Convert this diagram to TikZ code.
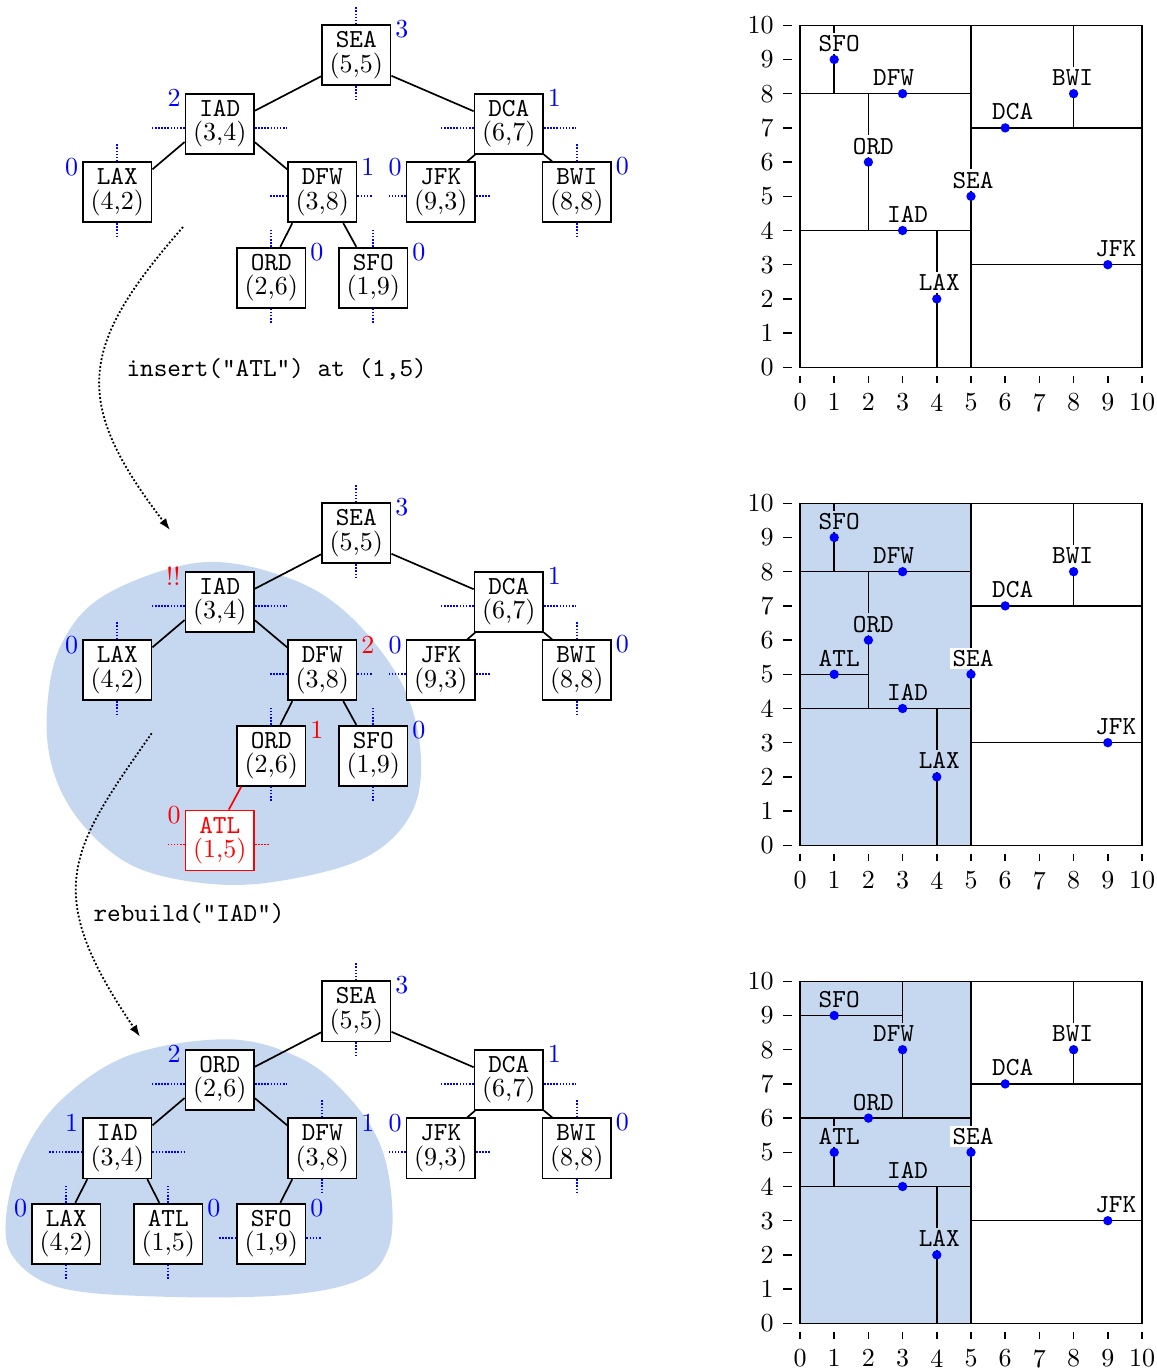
\documentclass[tikz,border=0pt]{standalone}
\usetikzlibrary{calc,arrows.meta}
\definecolor{kdblue}{RGB}{0,0,255}
\definecolor{kdred}{RGB}{255,0,0}
\definecolor{blobfill}{RGB}{197,216,240}
\newcommand\kdbox[6][]{\node[kd,#1] (#2) at (#3,#4) {\texttt{#5}\\[-2.6pt](#6)};}
\newcommand\kdvs[2][kdblue]{\draw[sp,#1] (#2.north) -- ++(0,-17); \draw[sp,#1] (#2.south) -- ++(0,15);}
\newcommand\kdhw[2][kdblue]{\draw[sp,#1] ($(#2.west)+(0,4)$) -- ++(-33.6,0); \draw[sp,#1] ($(#2.east)+(0,4)$) -- ++(32.4,0);}
\newcommand\kdhn[2][kdblue]{\draw[sp,#1] ($(#2.west)+(0,4)$) -- ++(-17,0); \draw[sp,#1] ($(#2.east)+(0,4)$) -- ++(15,0);}
\newcommand\kdne[3][kdblue]{\node[dl,text=#1,anchor=west] (#2ne) at ($(#2.north east)+(3.5,5)$) {#3};}
\newcommand\kdnw[3][kdblue]{\node[dl,text=#1,anchor=east] (#2nw) at ($(#2.north west)+(-3.5,5.5)$) {#3};}
\newcommand\edAL[2]{\draw[ed] ($(#1.west)+(0,21)$) -- ($(#2.east)+(0,-13)$);}
\newcommand\edAR[2]{\draw[ed] ($(#1.east)+(0,20.5)$) -- ($(#2.west)+(0,-12.5)$);}
\newcommand\edBL[2]{\draw[ed] ($(#1.west)+(0,18.3)$) -- ($(#2.east)+(0,-23)$);}
\newcommand\edBR[2]{\draw[ed] ($(#1.east)+(0,18.6)$) -- ($(#2.west)+(0,-23)$);}
\newcommand\edCL[2]{\draw[ed] ($(#1.south west)+(1.5,0)$) -- ($(#2.north)+(26.4,0)$);}
\newcommand\edCR[2]{\draw[ed] ($(#1.south east)+(0,0)$) -- ($(#2.north)+(-24.6,0)$);}
\newcommand\edDL[3][]{\draw[ed,#1] ($(#2.south)+(-30,0)$) -- ($(#3.north)+(9,0)$);}
\newcommand\edDR[2]{\draw[ed] ($(#1.south)+(30,0)$) -- ($(#2.north)+(-9,0)$);}
\newcommand\kdaxes[1]{%
  \draw[pl] (0,0) rectangle (10,10);
  \foreach \i in {0,...,10}{
    \draw[pl] ([xshift=-3.2pt]0,\i) -- ([xshift=-6.45pt]0,\i);
    \node[tk,anchor=east] (#1y\i) at ([xshift=-9.9pt]0,\i) {\i};
    \draw[pl] ([yshift=-3.2pt]\i,0) -- ([yshift=-6.2pt]\i,0);
    \node[tk,anchor=north] (#1x\i) at ([yshift=-9.9pt]\i,0) {\i};
  }}
\newcommand\kdpl[6][white]{\node[plab,fill=#1] (#2) at ([xshift=#5*0.3846pt,yshift=3.08pt]#3,#4) {#6};}
\newcommand\kddot[2]{\fill[kdblue] (#1,#2) circle[radius=1.8pt];}
\begin{document}
\begin{tikzpicture}[x=0.384615pt,y=-0.384615pt,
  kd/.style={draw, line width=0.65pt, fill=white, minimum width=26.4pt, minimum height=23.1pt, inner sep=0pt, align=center, font=\normalsize},
  sp/.style={dash pattern=on 0.6pt off 0.6pt, line width=0.75pt},
  ed/.style={line width=0.65pt},
  dl/.style={inner sep=0pt, font=\normalsize},
  pl/.style={line width=0.55pt},
  tk/.style={inner sep=0pt, font=\normalsize},
  plab/.style={anchor=base, inner sep=1pt, font=\ttfamily},
  arr/.style={dash pattern=on 0.7pt off 0.8pt, line width=0.7pt, -{Latex[length=4.5pt,width=3.2pt]}}]
\useasboundingbox (0,0) rectangle (1157,1369);

% ---------- blobs ----------
\fill[blobfill] plot[smooth cycle, tension=0.6] coordinates {
  (200,562.5) (285.7,577) (347,613.3) (400,680) (420.4,750) (412,812)
  (367,856.7) (285.7,880) (212,884) (134.7,866.7) (81.6,823.3) (53,770)
  (47,710) (61,645) (105,595)};
\fill[blobfill] plot[smooth cycle, tension=0.6] coordinates {
  (228.6,1039.3) (300,1058) (346.9,1095) (379.6,1143.3) (391.8,1200) (387.8,1250)
  (359.2,1280) (285.7,1295) (163.3,1296.7) (61.2,1288) (14,1258) (6.1,1216.7)
  (22,1156.7) (61.2,1100) (130,1055)};

% ---------- tree 1 ----------
\kdbox{SEA1}{356.3}{55.3}{SEA}{5,5}
\kdbox{IAD1}{219.8}{123.7}{IAD}{3,4}
\kdbox{DCA1}{508.8}{123.7}{DCA}{6,7}
\kdbox{LAX1}{117.3}{192.3}{LAX}{4,2}
\kdbox{DFW1}{322.3}{192.3}{DFW}{3,8}
\kdbox{JFK1}{440.8}{192.3}{JFK}{9,3}
\kdbox{BWI1}{576.8}{192.3}{BWI}{8,8}
\kdbox{ORD1}{271.3}{277.7}{ORD}{2,6}
\kdbox{SFO1}{373.3}{277.7}{SFO}{1,9}
\edAL{SEA1}{IAD1} \edAR{SEA1}{DCA1}
\edBL{IAD1}{LAX1} \edBR{IAD1}{DFW1}
\edCL{DCA1}{JFK1} \edCR{DCA1}{BWI1}
\edDL{DFW1}{ORD1}
\draw[ed] ($(DFW1.south)+(21,0)$) -- ($(SFO1.north)+(-17,0)$);
\kdvs{SEA1} \kdhw{IAD1} \kdhw{DCA1} \kdvs{LAX1} \kdhn{DFW1} \kdhn{JFK1} \kdvs{BWI1} \kdvs{ORD1} \kdvs{SFO1}
\kdne{SEA1}{3} \kdnw{IAD1}{2} \kdne{DCA1}{1} \kdnw{LAX1}{0} \kdne{DFW1}{1}
\kdnw{JFK1}{0} \kdne{BWI1}{0} \kdne{ORD1}{0} \kdne{SFO1}{0}

% ---------- tree 2 ----------
\kdbox{SEA2}{356.3}{533.3}{SEA}{5,5}
\kdbox{IAD2}{219.8}{601.7}{IAD}{3,4}
\kdbox{DCA2}{508.8}{601.7}{DCA}{6,7}
\kdbox{LAX2}{117.3}{670.3}{LAX}{4,2}
\kdbox{DFW2}{322.3}{670.3}{DFW}{3,8}
\kdbox{JFK2}{440.8}{670.3}{JFK}{9,3}
\kdbox{BWI2}{576.8}{670.3}{BWI}{8,8}
\kdbox{ORD2}{271.3}{755.7}{ORD}{2,6}
\kdbox{SFO2}{373.3}{755.7}{SFO}{1,9}
\kdbox[draw=kdred,text=kdred]{ATL2}{219.8}{840.5}{ATL}{1,5}
\edAL{SEA2}{IAD2} \edAR{SEA2}{DCA2}
\edBL{IAD2}{LAX2} \edBR{IAD2}{DFW2}
\edCL{DCA2}{JFK2} \edCR{DCA2}{BWI2}
\edDL{DFW2}{ORD2}
\draw[ed] ($(DFW2.south)+(21,0)$) -- ($(SFO2.north)+(-17,0)$);
\edDL[kdred]{ORD2}{ATL2}
\kdvs{SEA2} \kdhw{IAD2} \kdhw{DCA2} \kdvs{LAX2} \kdhn{DFW2} \kdhn{JFK2} \kdvs{BWI2} \kdvs{ORD2} \kdvs{SFO2}
\kdhn[kdred]{ATL2}
\kdne{SEA2}{3} \kdnw[kdred]{IAD2}{!!} \kdne{DCA2}{1} \kdnw{LAX2}{0} \kdne[kdred]{DFW2}{2}
\kdnw{JFK2}{0} \kdne{BWI2}{0} \kdne[kdred]{ORD2}{1} \kdne{SFO2}{0} \kdnw[kdred]{ATL2}{0}

% ---------- tree 3 ----------
\kdbox{SEA3}{356.3}{1011.3}{SEA}{5,5}
\kdbox{ORD3}{219.8}{1079.7}{ORD}{2,6}
\kdbox{DCA3}{508.8}{1079.7}{DCA}{6,7}
\kdbox{IAD3}{117.3}{1148.3}{IAD}{3,4}
\kdbox{DFW3}{322.3}{1148.3}{DFW}{3,8}
\kdbox{JFK3}{440.8}{1148.3}{JFK}{9,3}
\kdbox{BWI3}{576.8}{1148.3}{BWI}{8,8}
\kdbox{LAX3}{66.3}{1233.7}{LAX}{4,2}
\kdbox{ATL3}{168.3}{1233.7}{ATL}{1,5}
\kdbox{SFO3}{271.3}{1233.7}{SFO}{1,9}
\edAL{SEA3}{ORD3} \edAR{SEA3}{DCA3}
\edBL{ORD3}{IAD3} \edBR{ORD3}{DFW3}
\edCL{DCA3}{JFK3} \edCR{DCA3}{BWI3}
\edDL{IAD3}{LAX3} \edDR{IAD3}{ATL3}
\edDL{DFW3}{SFO3}
\kdvs{SEA3} \kdhw{ORD3} \kdhw{DCA3} \kdhw{IAD3} \kdvs{DFW3} \kdhn{JFK3} \kdvs{BWI3}
\kdvs{LAX3} \kdvs{ATL3} \kdhn{SFO3}
\kdne{SEA3}{3} \kdnw{ORD3}{2} \kdne{DCA3}{1} \kdnw{IAD3}{1} \kdne{DFW3}{1}
\kdnw{JFK3}{0} \kdne{BWI3}{0} \kdnw{LAX3}{0} \kdne{ATL3}{0} \kdne{SFO3}{0}

% ---------- arrows and captions ----------
\coordinate (a1s) at (183,227);
\coordinate (a1e) at (170,530);
\draw[arr] (a1s) .. controls (80,345) and (70,400) .. (a1e);
\coordinate (a2s) at (151.7,733.3);
\coordinate (a2e) at (140,1036.7);
\draw[arr] (a2s) .. controls (70,850) and (40,890) .. (a2e);
\node[anchor=base west, inner sep=0pt, font=\ttfamily] (cap1) at (126,376) {insert("ATL") at (1,5)};
\node[anchor=base west, inner sep=0pt, font=\ttfamily] (cap2) at (93,921) {rebuild("IAD")};

% ---------- plot 1 ----------
\begin{scope}[shift={(800,367.3)},x=13.154pt,y=13.154pt]
  \draw[pl] (5,0) -- (5,10);
  \draw[pl] (0,4) -- (5,4);
  \draw[pl] (5,7) -- (10,7);
  \draw[pl] (4,0) -- (4,4);
  \draw[pl] (0,8) -- (5,8);
  \draw[pl] (2,4) -- (2,8);
  \draw[pl] (1,8) -- (1,10);
  \draw[pl] (5,3) -- (10,3);
  \draw[pl] (8,7) -- (8,10);
  \kdaxes{pa}
  \kdpl{paSFO}{1}{9}{5}{SFO}
  \kdpl{paDFW}{3}{8}{-9}{DFW}
  \kdpl{paBWI}{8}{8}{-1}{BWI}
  \kdpl{paDCA}{6}{7}{7.5}{DCA}
  \kdpl{paORD}{2}{6}{5}{ORD}
  \kdpl{paSEA}{5}{5}{2}{SEA}
  \kdpl{paIAD}{3}{4}{5}{IAD}
  \kdpl{paJFK}{9}{3}{8}{JFK}
  \kdpl{paLAX}{4}{2}{2.5}{LAX}
  \kddot{1}{9} \kddot{3}{8} \kddot{8}{8} \kddot{6}{7} \kddot{2}{6}
  \kddot{5}{5} \kddot{3}{4} \kddot{9}{3} \kddot{4}{2}
\end{scope}

% ---------- plot 2 ----------
\begin{scope}[shift={(800,845.3)},x=13.154pt,y=13.154pt]
  \fill[blobfill] (0,0) rectangle (5,10);
  \draw[pl] (5,0) -- (5,10);
  \draw[pl] (0,4) -- (5,4);
  \draw[pl] (5,7) -- (10,7);
  \draw[pl] (4,0) -- (4,4);
  \draw[pl] (0,8) -- (5,8);
  \draw[pl] (2,4) -- (2,8);
  \draw[pl] (1,8) -- (1,10);
  \draw[pl] (5,3) -- (10,3);
  \draw[pl] (8,7) -- (8,10);
  \draw[pl] (0,5) -- (2,5);
  \kdaxes{pb}
  \kdpl[blobfill]{pbSFO}{1}{9}{5}{SFO}
  \kdpl[blobfill]{pbDFW}{3}{8}{-9}{DFW}
  \kdpl{pbBWI}{8}{8}{-1}{BWI}
  \kdpl{pbDCA}{6}{7}{7.5}{DCA}
  \kdpl[blobfill]{pbORD}{2}{6}{5}{ORD}
  \kdpl[blobfill]{pbATL}{1}{5}{5}{ATL}
  \kdpl{pbSEA}{5}{5}{2}{SEA}
  \kdpl[blobfill]{pbIAD}{3}{4}{5}{IAD}
  \kdpl{pbJFK}{9}{3}{8}{JFK}
  \kdpl[blobfill]{pbLAX}{4}{2}{2.5}{LAX}
  \kddot{1}{9} \kddot{3}{8} \kddot{8}{8} \kddot{6}{7} \kddot{2}{6} \kddot{1}{5}
  \kddot{5}{5} \kddot{3}{4} \kddot{9}{3} \kddot{4}{2}
\end{scope}

% ---------- plot 3 ----------
\begin{scope}[shift={(800,1323.3)},x=13.154pt,y=13.154pt]
  \fill[blobfill] (0,0) rectangle (5,10);
  \draw[pl] (5,0) -- (5,10);
  \draw[pl] (0,6) -- (5,6);
  \draw[pl] (0,4) -- (5,4);
  \draw[pl] (3,6) -- (3,10);
  \draw[pl] (0,9) -- (3,9);
  \draw[pl] (4,0) -- (4,4);
  \draw[pl] (1,4) -- (1,6);
  \draw[pl] (5,7) -- (10,7);
  \draw[pl] (5,3) -- (10,3);
  \draw[pl] (8,7) -- (8,10);
  \kdaxes{pc}
  \kdpl[blobfill]{pcSFO}{1}{9}{5}{SFO}
  \kdpl[blobfill]{pcDFW}{3}{8}{-9}{DFW}
  \kdpl{pcBWI}{8}{8}{-1}{BWI}
  \kdpl{pcDCA}{6}{7}{7.5}{DCA}
  \kdpl[blobfill]{pcORD}{2}{6}{5}{ORD}
  \kdpl[blobfill]{pcATL}{1}{5}{5}{ATL}
  \kdpl{pcSEA}{5}{5}{2}{SEA}
  \kdpl[blobfill]{pcIAD}{3}{4}{5}{IAD}
  \kdpl{pcJFK}{9}{3}{8}{JFK}
  \kdpl[blobfill]{pcLAX}{4}{2}{2.5}{LAX}
  \kddot{1}{9} \kddot{3}{8} \kddot{8}{8} \kddot{6}{7} \kddot{2}{6} \kddot{1}{5}
  \kddot{5}{5} \kddot{3}{4} \kddot{9}{3} \kddot{4}{2}
\end{scope}
\end{tikzpicture}
\end{document}
